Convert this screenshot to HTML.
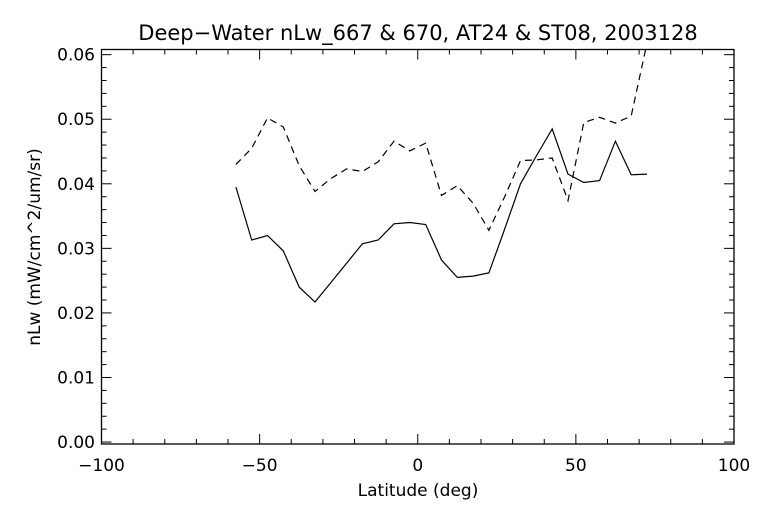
<!DOCTYPE html>
<html><head><meta charset="utf-8"><style>
body{margin:0;background:#fff}
svg{display:block;font-family:"DejaVu Sans","Liberation Sans",sans-serif}
</style></head><body>
<svg id="c" width="768" height="512">
<text x="418" y="40" text-anchor="middle" font-size="21">Deep−Water nLw_667 &amp; 670, AT24 &amp; ST08, 2003128</text>
<text x="418" y="496" text-anchor="middle" font-size="17">Latitude (deg)</text>
<text transform="translate(40,247) rotate(-90)" text-anchor="middle" font-size="17">nLw (mW/cm^2/um/sr)</text>
<g id="axes"></g>
<defs><clipPath id="clip"><rect x="101" y="49" width="633" height="395"/></clipPath></defs>
<g id="series" clip-path="url(#clip)"></g>
</svg>
<script>
const lats=[-57.5,-52.5,-47.5,-42.5,-37.5,-32.5,-27.5,-22.5,-17.5,-12.5,-7.5,-2.5,2.5,7.5,12.5,17.5,22.5,27.5,32.5,37.5,42.5,47.5,52.5,57.5,62.5,67.5,72.5];
const solid=[0.0395,0.0313,0.0320,0.0296,0.0240,0.0217,0.0247,0.0277,0.0307,0.0313,0.0338,0.0340,0.0337,0.0282,0.0255,0.0257,0.0262,0.0330,0.0400,0.0443,0.0485,0.0415,0.0402,0.0405,0.0466,0.0414,0.0415];
const dashed=[0.0430,0.0455,0.0502,0.0488,0.0428,0.0388,0.0408,0.0423,0.0419,0.0434,0.0466,0.0451,0.0463,0.0382,0.0397,0.0370,0.0328,0.0380,0.0436,0.0437,0.0440,0.0374,0.0495,0.0503,0.0494,0.0505,0.0618];
const xTicks=[-100,-50,0,50,100];
const yTicks=[0,0.01,0.02,0.03,0.04,0.05,0.06];
const X0=101.5,X1=734,Y0=444,Y1=49.5,xmin=-100,xmax=100,ymin=-0.0003,ymax=0.0608;
const sx=v=>X0+(v-xmin)/(xmax-xmin)*(X1-X0);
const sy=v=>Y0-(v-ymin)/(ymax-ymin)*(Y0-Y1);
const NS='http://www.w3.org/2000/svg';
const ax=document.getElementById('axes'),sg=document.getElementById('series');
function mk(tag,at,par){const e=document.createElementNS(NS,tag);for(const k in at)e.setAttribute(k,at[k]);par.appendChild(e);return e;}
const fr=mk('rect',{x:X0,y:Y1,width:X1-X0,height:Y0-Y1,fill:'none',stroke:'#000','stroke-width':1.3},ax);


for(let v=-100;v<=100;v+=10){const x=sx(v);const L=(v%50===0)?10:5;
mk('line',{x1:x,x2:x,y1:Y0,y2:Y0-L,stroke:'#000'},ax);mk('line',{x1:x,x2:x,y1:Y1,y2:Y1+L,stroke:'#000'},ax);}
for(let i=0;i<=60;i+=2){const v=i/1000;const y=sy(v);const L=(i%10===0)?10:5;
mk('line',{x1:X0,x2:X0+L,y1:y,y2:y,stroke:'#000'},ax);mk('line',{x1:X1,x2:X1-L,y1:y,y2:y,stroke:'#000'},ax);}
xTicks.forEach(v=>{const t=mk('text',{x:sx(v),y:471,'text-anchor':'middle','font-size':17},ax);t.textContent=(v<0?'−':'')+Math.abs(v);

});
yTicks.forEach(v=>{const t=mk('text',{x:95,y:sy(v)+6,'text-anchor':'end','font-size':17},ax);t.textContent=v.toFixed(2);

});
function line(vals,dash,name){const d=vals.map((v,i)=>(i?'L':'M')+sx(lats[i]).toFixed(1)+','+sy(v).toFixed(1)).join('');
const p=mk('path',{d:d,fill:'none',stroke:'#000','stroke-width':1.2},sg);if(dash)p.setAttribute('stroke-dasharray','7,5');

}
line(solid,false,'nlw-667-line');
line(dashed,true,'nlw-670-line');
</script>
</body></html>
